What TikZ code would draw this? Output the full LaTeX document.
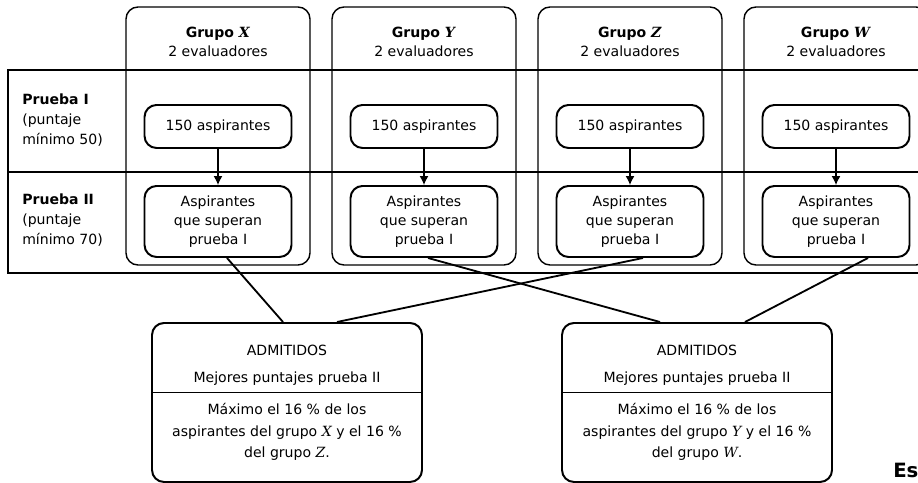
\documentclass[tikz,border=0pt]{standalone}
\usepackage{fontspec}
\setmainfont{DejaVu Sans}
\newfontfamily\letrafont{DejaVu Serif}
\newcommand\letra[1]{{\letrafont\itshape #1}}
\usetikzlibrary{arrows.meta}
\tikzset{
	texto/.style={inner sep=0, font=\fontsize{10}{14}\selectfont},
	grupo/.style={draw, line width=1pt, rounded corners=0.3cm, minimum width=4.6cm, minimum height=6.45cm},
	caja/.style={draw, line width=1.4pt, rounded corners=0.3cm, minimum width=3.675cm, align=center, font=\fontsize{10}{13.5}\selectfont},
	admbox/.style={draw, line width=1.4pt, rounded corners=0.3cm, minimum width=6.75cm, minimum height=3.975cm},
	flecha/.style={line width=0.9pt, -{Latex[length=2.2mm,width=2.2mm]}},
	linea/.style={line width=1.3pt}
}

\begin{document}
\begin{tikzpicture}
			%%%%% START %%%%%
			
			\clip (0, 0) rectangle (22.95, 12.075);
			
			% tabla
			\draw[line width=1.3pt] (0.2, 5.25) rectangle (23.5, 10.325);
			\draw[line width=1.3pt] (0.2, 7.775) -- (23.5, 7.775);
			
			\node[texto, anchor=west, align=left] (pruebaI) at (0.55, 9.075) {\textbf{Prueba I}\\(puntaje\\mínimo 50)};
			\node[texto, anchor=west, align=left] (pruebaII) at (0.55, 6.575) {\textbf{Prueba II}\\(puntaje\\mínimo 70)};
			
			% grupo X
			\node[grupo] (gX) at (5.45, 8.675) {};
			\node[texto, align=center] (tX) at (5.45, 11.025) {\textbf{Grupo \letra{X}}\\2 evaluadores};
			\node[caja, minimum height=1.075cm] (pX) at (5.45, 8.9125) {150 aspirantes};
			\node[caja, minimum height=1.775cm] (sX) at (5.45, 6.5375) {Aspirantes\\que superan\\prueba I};
			\draw[flecha] (pX) -- (sX);
			
			% grupo Y
			\node[grupo] (gY) at (10.6, 8.675) {};
			\node[texto, align=center] (tY) at (10.6, 11.025) {\textbf{Grupo \letra{Y}}\\2 evaluadores};
			\node[caja, minimum height=1.075cm] (pY) at (10.6, 8.9125) {150 aspirantes};
			\node[caja, minimum height=1.775cm] (sY) at (10.6, 6.5375) {Aspirantes\\que superan\\prueba I};
			\draw[flecha] (pY) -- (sY);
			
			% grupo Z
			\node[grupo] (gZ) at (15.75, 8.675) {};
			\node[texto, align=center] (tZ) at (15.75, 11.025) {\textbf{Grupo \letra{Z}}\\2 evaluadores};
			\node[caja, minimum height=1.075cm] (pZ) at (15.75, 8.9125) {150 aspirantes};
			\node[caja, minimum height=1.775cm] (sZ) at (15.75, 6.5375) {Aspirantes\\que superan\\prueba I};
			\draw[flecha] (pZ) -- (sZ);
			
			% grupo W
			\node[grupo] (gW) at (20.9, 8.675) {};
			\node[texto, align=center] (tW) at (20.9, 11.025) {\textbf{Grupo \letra{W}}\\2 evaluadores};
			\node[caja, minimum height=1.075cm] (pW) at (20.9, 8.9125) {150 aspirantes};
			\node[caja, minimum height=1.775cm] (sW) at (20.9, 6.5375) {Aspirantes\\que superan\\prueba I};
			\draw[flecha] (pW) -- (sW);
			
			% admitidos X y Z
			\node[admbox] (aXZ) at (7.175, 2.0125) {};
			\draw[line width=0.7pt] ([yshift=0.2625cm]aXZ.west) -- ([yshift=0.2625cm]aXZ.east);
			\node[texto] (tXZ) at (7.175, 3.325) {ADMITIDOS};
			\node[texto] (mXZ) at (7.175, 2.62) {Mejores puntajes prueba II};
			\node[texto, align=center, font=\fontsize{10}{15.3}\selectfont] (cXZ) at (7.175, 1.27) {Máximo el 16 \% de los\\aspirantes del grupo \letra{X} y el 16 \%\\del grupo \letra{Z}.};
			
			% admitidos Y y W
			\node[admbox] (aYW) at (17.425, 2.0125) {};
			\draw[line width=0.7pt] ([yshift=0.2625cm]aYW.west) -- ([yshift=0.2625cm]aYW.east);
			\node[texto] (tYW) at (17.425, 3.325) {ADMITIDOS};
			\node[texto] (mYW) at (17.425, 2.62) {Mejores puntajes prueba II};
			\node[texto, align=center, font=\fontsize{10}{15.3}\selectfont] (cYW) at (17.425, 1.27) {Máximo el 16 \% de los\\aspirantes del grupo \letra{Y} y el 16 \%\\del grupo \letra{W}.};
			
			% conexiones
			\draw[linea] ([xshift=0.225cm]sX.south) -- ([xshift=-0.1cm]aXZ.north);
			\draw[linea] ([xshift=0.325cm]sZ.south) -- ([xshift=1.25cm]aXZ.north);
			\draw[linea] ([xshift=0.1cm]sY.south) -- ([xshift=-0.925cm]aYW.north);
			\draw[linea] ([xshift=0.8cm]sW.south) -- ([xshift=1.2cm]aYW.north);
			
			\node[inner sep=0, anchor=base west, font=\fontsize{14}{16}\selectfont\bfseries] (es) at (22.325, 0.125) {Es};
			
			%%%%% END %%%%%
		\end{tikzpicture}
\end{document}
